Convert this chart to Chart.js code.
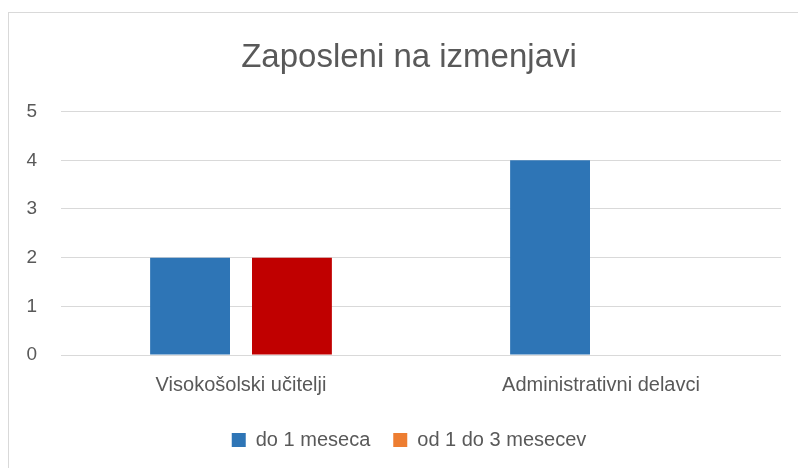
<!DOCTYPE html>
<html>
<head>
<meta charset="utf-8">
<script src="https://cdn.jsdelivr.net/npm/chart.js@4"></script>
<style>
	html, body { margin: 0; padding: 0; background: #fff; overflow: hidden; }
	body { width: 798px; height: 468px; position: relative; }
	.box { position: absolute; left: 8px; top: 12px; width: 802px; height: 470px; border: 1px solid #d9d9d9; box-sizing: border-box; }
	canvas { position: absolute; left: 0; top: 0; }
</style>
</head>
<body>
<div class="box">
	<canvas id="chart" width="800" height="468"></canvas>
</div>
<script>
	const title = 'Zaposleni na izmenjavi';
	const categories = [ 'Visokošolski učitelji', 'Administrativni delavci' ];
	const seriesNames = [ 'do 1 meseca', 'od 1 do 3 mesecev' ];
	const do1Meseca = [ 2, 4 ];
	const od1Do3Mesecev = [ 2, 0 ];
	const barColors = [ '#2E75B6', '#C00000' ];
	const legendColors = [ '#2E75B6', '#ED7D31' ];
	const yTicks = [ 0, 1, 2, 3, 4, 5 ];

	const textColor = '#595959';
	const fontFamily = '"Liberation Sans", Arial, sans-serif';

	new Chart(
		document.getElementById( 'chart' ).getContext( '2d' ),
		{
			type: 'bar',
			data: {
				labels: categories,
				datasets: [
					{
						label: seriesNames[ 0 ],
						data: do1Meseca,
						backgroundColor: barColors[ 0 ],
						yAxisID: 'y',
					},
					{
						label: seriesNames[ 1 ],
						data: od1Do3Mesecev,
						backgroundColor: barColors[ 1 ],
						yAxisID: 'y',
					},
				],
			},
			options: {
				responsive: false,
				animation: false,
				layout: { padding: { left: 10, right: 10, top: 0, bottom: 21 } },
				datasets: {
					bar: { categoryPercentage: 0.566, barPercentage: 0.784 },
				},
				plugins: {
					title: {
						display: true,
						text: title,
						color: textColor,
						font: { family: fontFamily, size: 33, weight: 'normal' },
						padding: { top: 25, bottom: 34 },
					},
					legend: {
						position: 'bottom',
						labels: {
							color: textColor,
							font: { family: fontFamily, size: 20 },
							boxWidth: 14,
							boxHeight: 14,
							padding: 23,
							generateLabels: chart => {
								const items = Chart.defaults.plugins.legend.labels.generateLabels( chart );
								items.forEach( ( item, i ) => {
									item.fillStyle = legendColors[ i ];
									item.strokeStyle = legendColors[ i ];
									item.lineWidth = 0;
								} );
								return items;
							},
						},
					},
					tooltip: { enabled: false },
				},
				scales: {
					x: {
						grid: { display: false },
						border: { display: false },
						ticks: {
							color: textColor,
							font: { family: fontFamily, size: 20 },
							padding: 10,
						},
					},
					y: {
						min: 0,
						max: 5,
						afterBuildTicks: scale => {
							scale.ticks = yTicks.map( v => ( { value: v } ) );
						},
						afterFit: scale => {
							scale.width = 42;
						},
						grid: { color: '#d9d9d9', lineWidth: 1, drawTicks: false },
						border: { display: false },
						ticks: {
							color: textColor,
							font: { family: fontFamily, size: 19 },
							padding: 24,
						},
					},
					spacer: {
						position: 'right',
						min: 0,
						max: 5,
						afterFit: scale => {
							scale.width = 18;
						},
						grid: { display: false },
						border: { display: false },
						ticks: { display: false },
					},
				},
			},
		}
	);
</script>
</body>
</html>
